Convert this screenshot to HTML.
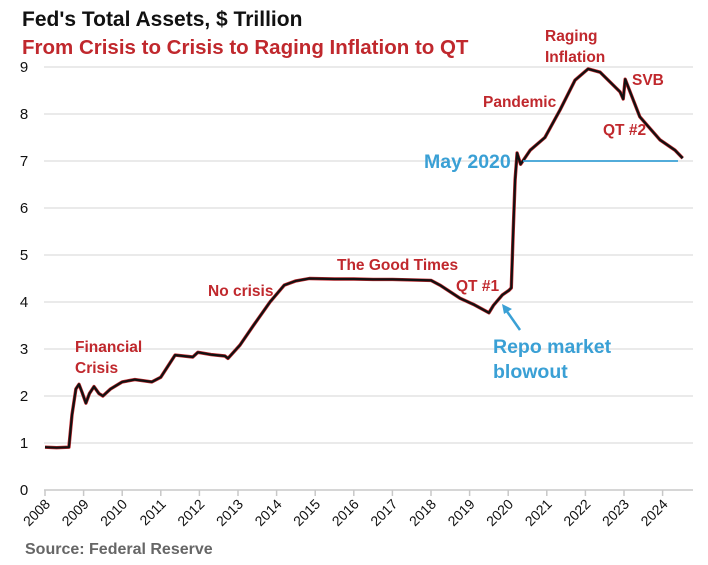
<!DOCTYPE html>
<html><head><meta charset="utf-8"><style>
body{margin:0;background:#fff;width:708px;height:565px;overflow:hidden}
svg{display:block;font-family:"Liberation Sans",sans-serif}
.ann{fill:#c0282d;font-weight:bold;font-size:15.5px}
</style></head><body>
<svg id="chart" width="708" height="565">
<text x="22" y="26" font-size="21" font-weight="bold" fill="#111">Fed's Total Assets, $ Trillion</text>
<text x="22" y="54" font-size="20.5" font-weight="bold" fill="#c0282d">From Crisis to Crisis to Raging Inflation to QT</text>
<g id="grid"></g><g id="xaxis"></g>
<g id="series"></g>
<g>
<text class="ann" x="75" y="352">Financial</text>
<text class="ann" x="75" y="373">Crisis</text>
<text class="ann" x="208" y="296">No crisis</text>
<text class="ann" x="337" y="270">The Good Times</text>
<text class="ann" x="456" y="291">QT #1</text>
<text class="ann" x="483" y="107">Pandemic</text>
<text class="ann" x="545" y="41">Raging</text>
<text class="ann" x="545" y="62">Inflation</text>
<text class="ann" x="632" y="85">SVB</text>
<text class="ann" x="603" y="135">QT #2</text>
<line x1="523" y1="161" x2="678" y2="161" stroke="#3aa0d5" stroke-width="1.8"/>
<text x="424" y="168" font-size="19.5" font-weight="bold" fill="#3aa0d5">May 2020</text>
<line x1="520" y1="330" x2="506" y2="310" stroke="#3aa0d5" stroke-width="2.5"/>
<polygon points="502,304 512,309 504,314" fill="#3aa0d5"/>
<text x="493" y="353" font-size="19.5" font-weight="bold" fill="#3aa0d5">Repo market</text>
<text x="493" y="378" font-size="19.5" font-weight="bold" fill="#3aa0d5">blowout</text>
</g>
<text x="25" y="554" font-size="16" font-weight="bold" fill="#666">Source: Federal Reserve</text>
</svg>
<script>
const years=[2008,2009,2010,2011,2012,2013,2014,2015,2016,2017,2018,2019,2020,2021,2022,2023,2024];
const yTicks=[0,1,2,3,4,5,6,7,8,9];
const dates=[2008.0,2008.3,2008.62,2008.7,2008.8,2008.88,2008.95,2009.06,2009.15,2009.27,2009.4,2009.5,2009.7,2010.0,2010.33,2010.77,2011.0,2011.37,2011.83,2011.96,2012.3,2012.66,2012.74,2013.05,2013.4,2013.83,2014.2,2014.5,2014.85,2015.5,2016.0,2016.5,2017.0,2017.5,2018.0,2018.23,2018.75,2019.1,2019.5,2019.62,2019.85,2020.02,2020.08,2020.13,2020.18,2020.23,2020.32,2020.57,2020.95,2021.34,2021.73,2022.07,2022.38,2022.9,2022.98,2023.03,2023.41,2023.93,2024.32,2024.52];
const assets=[0.91,0.9,0.91,1.6,2.15,2.25,2.1,1.85,2.05,2.2,2.05,2.0,2.15,2.3,2.35,2.3,2.4,2.87,2.83,2.93,2.88,2.85,2.8,3.08,3.5,4.0,4.36,4.45,4.5,4.49,4.49,4.48,4.48,4.47,4.46,4.36,4.08,3.95,3.77,3.93,4.15,4.25,4.3,5.5,6.6,7.17,6.93,7.23,7.5,8.08,8.72,8.96,8.89,8.47,8.32,8.74,7.94,7.45,7.23,7.06];
const X=y=>45+38.6*(y-2008), Y=v=>490-47*v;
const NS="http://www.w3.org/2000/svg";
const grid=document.getElementById('grid'), xa=document.getElementById('xaxis'), ser=document.getElementById('series');
function mk(tag,attrs,parent){const e=document.createElementNS(NS,tag);for(const k in attrs)e.setAttribute(k,attrs[k]);parent.appendChild(e);return e;}
yTicks.forEach(v=>{
  if(v>0){const l=mk('line',{x1:44,x2:693,y1:Y(v),y2:Y(v),stroke:'#d4d4d4','stroke-width':1},grid);
  
  }
  const t=mk('text',{x:24,y:Y(v)+5,'text-anchor':'middle','font-size':15,fill:'#111'},grid);
  t.textContent=v;
  
  
});
const ax=mk('line',{x1:44,x2:693,y1:490,y2:490,stroke:'#c8c8c8','stroke-width':1.5},xa);


years.forEach(yr=>{
  const x=X(yr);
  const tk=mk('line',{x1:x,x2:x,y1:490,y2:496,stroke:'#c8c8c8','stroke-width':1.5},xa);
  
  
  const t=mk('text',{x:x+6,y:505,'text-anchor':'end','font-size':14,fill:'#111',transform:`rotate(-45 ${x+6} 505)`},xa);
  t.textContent=yr;
  
  
});
const d=dates.map((t,i)=>(i?'L':'M')+X(t).toFixed(1)+' '+Y(assets[i]).toFixed(1)).join(' ');
const under=mk('path',{d:d,fill:'none',stroke:'#c0282d','stroke-width':3.4,'stroke-linejoin':'round'},ser);


const line=mk('path',{d:d,fill:'none',stroke:'#111','stroke-width':2.2,'stroke-linejoin':'round'},ser);


</script>
</body></html>
